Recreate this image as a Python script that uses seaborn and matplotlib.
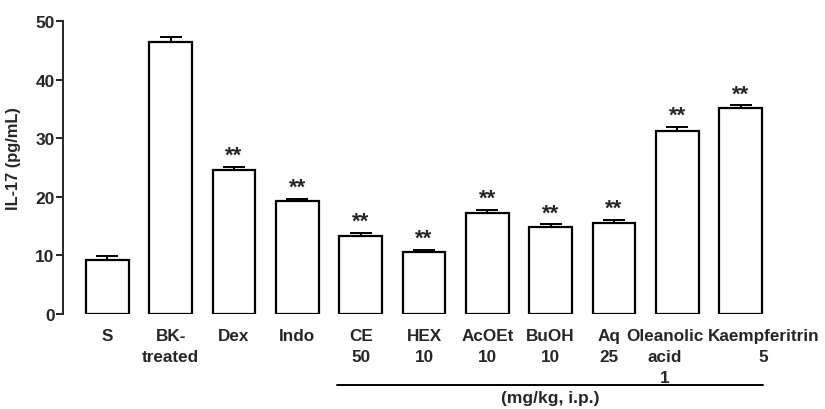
import numpy as np
import pandas as pd
import seaborn as sns
import matplotlib.pyplot as plt

# Daten
groups = ["S", "BK-\ntreated", "Dex", "Indo", "CE\n50", "HEX\n10", "AcOEt\n10",
          "BuOH\n10", "Aq\n25", "Oleanolic\nacid\n1", "Kaempferitrin\n5"]
means = [9.2, 46.5, 24.6, 19.2, 13.3, 10.5, 17.2, 14.8, 15.5, 31.3, 35.1]
sem = [0.7, 0.7, 0.5, 0.5, 0.6, 0.5, 0.6, 0.5, 0.6, 0.6, 0.5]
signif = ["", "", "**", "**", "**", "**", "**", "**", "**", "**", "**"]

df = pd.DataFrame({"gruppe": groups, "wert": means})

sns.set_style("ticks")
plt.rcParams["font.family"] = ["Liberation Sans", "DejaVu Sans"]
plt.rcParams["font.weight"] = "bold"

fig = plt.figure(figsize=(8.25, 4.1), dpi=100)
ax = fig.add_axes([63 / 825, 95 / 410, 722 / 825, 293 / 410])

sns.barplot(data=df, x="gruppe", y="wert", color="white", edgecolor="black",
            linewidth=1.6, width=0.67, ax=ax)
x = np.arange(len(groups))
ax.errorbar(x, means, yerr=[np.zeros(len(sem)), sem], fmt="none", ecolor="black",
            elinewidth=1.4, capsize=8, capthick=1.4)
for xi, m, s, t in zip(x, means, sem, signif):
    if t:
        ax.text(xi, m + s + 1.0, t, ha="center", va="baseline", fontsize=16, fontweight="bold")

ax.set_xlim(-0.7, 10.7)
ax.set_ylim(0, 50)
ax.set_yticks([0, 10, 20, 30, 40, 50])
ax.set_ylabel("IL-17 (pg/mL)", fontsize=11.8, fontweight="bold")
ax.yaxis.set_label_coords(-0.058, 0.535)
ax.set_xlabel("")
ax.set_xticks(x)
ax.set_xticklabels([])
ax.tick_params(axis="x", length=0)
ax.tick_params(axis="y", length=5, width=1.4, labelsize=12.5, pad=1)
for lbl in ax.get_yticklabels():
    lbl.set_fontweight("bold")

# x-Beschriftungen (Oleanolic/Kaempferitrin leicht versetzt wie im Original)
shift = [0, 0, 0, 0, 0, 0, 0, 0, -0.08, -0.2, 0.36]
for xi, g, d in zip(x, groups, shift):
    ax.text(xi + d, -2.4, g, ha="center", va="top", fontsize=12.3,
            fontweight="bold", linespacing=1.5, clip_on=False)

sns.despine(ax=ax, bottom=True)
ax.spines["left"].set_linewidth(1.4)

# Klammer unter den Extrakten
ax.plot([3.63, 10.35], [-12.1, -12.1], color="black", lw=1.4, clip_on=False)
ax.text(7.0, -13.0, "(mg/kg, i.p.)", ha="center", va="top", fontsize=12.5, fontweight="bold")

plt.savefig("out.png", dpi=100)
plt.close()
